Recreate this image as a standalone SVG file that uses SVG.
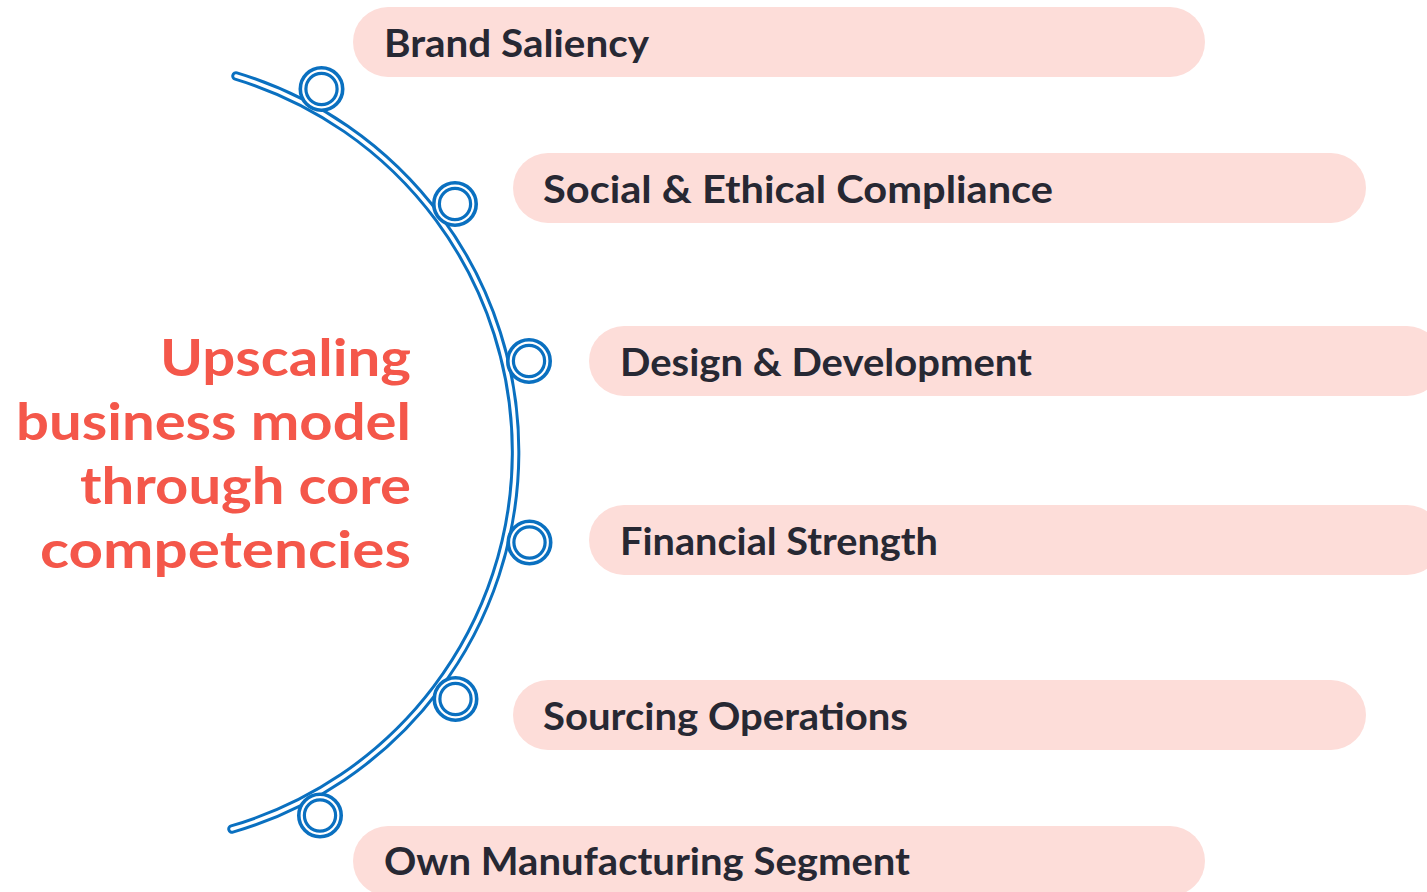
<svg xmlns="http://www.w3.org/2000/svg" width="1427" height="892" viewBox="0 0 1427 892">
<style>
.pill{fill:#FDDDD9;}
.lbl{font-family:Lato,"Liberation Sans",sans-serif;font-weight:700;font-size:38px;fill:#272833;}
.title{font-family:Lato,"Liberation Sans",sans-serif;font-weight:700;font-size:52px;fill:#F4574A;text-anchor:end;}
.arcO{fill:none;stroke:#0A70C0;stroke-width:9.5;stroke-linecap:round;}
.arcI{fill:none;stroke:#FFFFFF;stroke-width:3.5;stroke-linecap:round;}
.ringO{fill:#FFFFFF;stroke:#0A70C0;stroke-width:9;}
.ringI{fill:none;stroke:#FFFFFF;stroke-width:2.2;}
</style>
<rect width="1427" height="892" fill="#FFFFFF"/>
<g id="title">
<text class="title" x="411" y="376" textLength="251" lengthAdjust="spacingAndGlyphs">Upscaling</text>
<text class="title" x="411" y="440" textLength="395" lengthAdjust="spacingAndGlyphs">business model</text>
<text class="title" x="411" y="504" textLength="331" lengthAdjust="spacingAndGlyphs">through core</text>
<text class="title" x="411" y="568" textLength="371" lengthAdjust="spacingAndGlyphs">competencies</text>
</g>
<g id="connectors">
<path class="arcO" d="M 236 76 A 392.5 392.5 0 0 1 232 829"/>
<path class="arcI" d="M 236 76 A 392.5 392.5 0 0 1 232 829"/>
</g>
<g id="node-brand-saliency">
<rect class="pill" x="353" y="7" width="852" height="70" rx="35"/>
<circle class="ringO" cx="321.5" cy="89" r="18.5"/><circle class="ringI" cx="321.5" cy="89" r="18.3"/>
<text class="lbl" x="384" y="57" textLength="265" lengthAdjust="spacingAndGlyphs">Brand Saliency</text>
</g>
<g id="node-social-ethical">
<rect class="pill" x="513" y="153" width="853" height="70" rx="35"/>
<circle class="ringO" cx="455" cy="204" r="18.5"/><circle class="ringI" cx="455" cy="204" r="18.3"/>
<text class="lbl" x="543" y="203" textLength="510" lengthAdjust="spacingAndGlyphs">Social &amp; Ethical Compliance</text>
</g>
<g id="node-design">
<rect class="pill" x="589" y="326" width="853" height="70" rx="35"/>
<circle class="ringO" cx="529" cy="361" r="18.5"/><circle class="ringI" cx="529" cy="361" r="18.3"/>
<text class="lbl" x="620" y="376" textLength="412" lengthAdjust="spacingAndGlyphs">Design &amp; Development</text>
</g>
<g id="node-financial">
<rect class="pill" x="589" y="505" width="853" height="70" rx="35"/>
<circle class="ringO" cx="529.5" cy="542.5" r="18.5"/><circle class="ringI" cx="529.5" cy="542.5" r="18.3"/>
<text class="lbl" x="620" y="555" textLength="318" lengthAdjust="spacingAndGlyphs">Financial Strength</text>
</g>
<g id="node-sourcing">
<rect class="pill" x="513" y="680" width="853" height="70" rx="35"/>
<circle class="ringO" cx="455.5" cy="699" r="18.5"/><circle class="ringI" cx="455.5" cy="699" r="18.3"/>
<text class="lbl" x="543" y="730" textLength="365" lengthAdjust="spacingAndGlyphs">Sourcing Operations</text>
</g>
<g id="node-own-manufacturing">
<rect class="pill" x="353" y="826" width="852" height="70" rx="35"/>
<circle class="ringO" cx="320" cy="815.5" r="18.5"/><circle class="ringI" cx="320" cy="815.5" r="18.3"/>
<text class="lbl" x="384" y="875" textLength="526" lengthAdjust="spacingAndGlyphs">Own Manufacturing Segment</text>
</g>
</svg>
